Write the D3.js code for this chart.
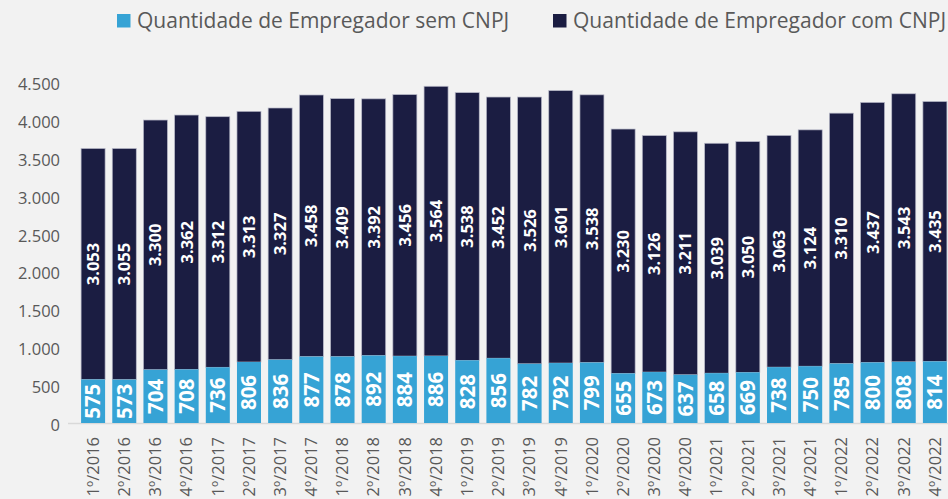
<!DOCTYPE html>
<html>
<head>
<meta charset="utf-8">
<script src="https://cdn.jsdelivr.net/npm/d3@7"></script>
<style>
  html, body { margin: 0; background: #f2f2f2; overflow: hidden; }
  text { font-family: "Open Sans", sans-serif; }
</style>
</head>
<body>
<script>
  // dados
  var quarters = [
    "1º/2016","2º/2016","3º/2016","4º/2016",
    "1º/2017","2º/2017","3º/2017","4º/2017",
    "1º/2018","2º/2018","3º/2018","4º/2018",
    "1º/2019","2º/2019","3º/2019","4º/2019",
    "1º/2020","2º/2020","3º/2020","4º/2020",
    "1º/2021","2º/2021","3º/2021","4º/2021",
    "1º/2022","2º/2022","3º/2022","4º/2022"
  ];
  var semCnpj = [575,573,704,708,736,806,836,877,878,892,884,886,828,856,782,792,799,655,673,637,658,669,738,750,785,800,808,814];
  var comCnpj = [3053,3055,3300,3362,3312,3313,3327,3458,3409,3392,3456,3564,3538,3452,3526,3601,3538,3230,3126,3211,3039,3050,3063,3124,3310,3437,3543,3435];
  var yTicks = [0,500,1000,1500,2000,2500,3000,3500,4000,4500];
  var seriesNames = ["Quantidade de Empregador sem CNPJ", "Quantidade de Empregador com CNPJ"];
  var colors = ["#36a3d5", "#1b1d42"];

  var width = 948, height = 499;
  var fmt = function(v) { return d3.format(",")(v).replace(/,/g, "."); };

  var svg = d3.select("body").append("svg")
    .attr("width", width)
    .attr("height", height);

  var x = d3.scaleBand()
    .domain(quarters)
    .range([77.5, 950.5])
    .paddingInner(0.23)
    .paddingOuter(0.115);

  var y = d3.scaleLinear()
    .domain([0, 4500])
    .range([423, 82.5]);

  // eixo y
  svg.append("g")
    .selectAll("text")
    .data(yTicks)
    .enter().append("text")
    .attr("x", 60)
    .attr("y", function(d) { return y(d) + 2; })
    .attr("dy", "0.35em")
    .attr("text-anchor", "end")
    .attr("font-size", 16.5)
    .attr("fill", "#595959")
    .text(function(d) { return fmt(d); });

  // linha base
  svg.append("line")
    .attr("x1", 68).attr("x2", width)
    .attr("y1", y(0) + 0.5).attr("y2", y(0) + 0.5)
    .attr("stroke", "#d9d9d9")
    .attr("stroke-width", 1.5);

  var rows = quarters.map(function(q, i) {
    return { q: q, sem: semCnpj[i], com: comCnpj[i] };
  });

  var bars = svg.append("g").selectAll("g")
    .data(rows)
    .enter().append("g");

  bars.append("rect")
    .attr("x", function(d) { return x(d.q); })
    .attr("width", x.bandwidth())
    .attr("y", function(d) { return y(d.sem + d.com); })
    .attr("height", function(d) { return y(d.sem) - y(d.sem + d.com); })
    .attr("fill", colors[1])
    .attr("stroke", "#b8b9c8")
    .attr("stroke-width", 0.7);

  bars.append("rect")
    .attr("x", function(d) { return x(d.q); })
    .attr("width", x.bandwidth())
    .attr("y", function(d) { return y(d.sem); })
    .attr("height", function(d) { return y(0) - y(d.sem); })
    .attr("fill", colors[0]);

  // rótulos
  bars.append("text")
    .attr("transform", function(d) {
      var cx = x(d.q) + x.bandwidth() / 2;
      var cy = (y(d.sem) + y(0)) / 2;
      return "translate(" + cx + "," + cy + ") rotate(-90)";
    })
    .attr("text-anchor", "middle")
    .attr("dy", "0.36em")
    .attr("font-size", 20.5)
    .attr("font-weight", "bold")
    .attr("fill", "#ffffff")
    .text(function(d) { return fmt(d.sem); });

  bars.append("text")
    .attr("transform", function(d) {
      var cx = x(d.q) + x.bandwidth() / 2;
      var cy = (y(d.sem + d.com) + y(d.sem)) / 2;
      return "translate(" + cx + "," + cy + ") rotate(-90)";
    })
    .attr("text-anchor", "middle")
    .attr("dy", "0.36em")
    .attr("font-size", 16.5)
    .attr("font-weight", "bold")
    .attr("fill", "#ffffff")
    .text(function(d) { return fmt(d.com); });

  // eixo x
  svg.append("g")
    .selectAll("text")
    .data(quarters)
    .enter().append("text")
    .attr("transform", function(d) {
      return "translate(" + (x(d) + x.bandwidth() / 2) + ",437) rotate(-90)";
    })
    .attr("text-anchor", "end")
    .attr("dy", "0.35em")
    .attr("font-size", 16.5)
    .attr("fill", "#595959")
    .text(function(d) { return d; });

  // legenda
  var legendX = [117, 553];
  var legend = svg.append("g").selectAll("g")
    .data(seriesNames)
    .enter().append("g")
    .attr("transform", function(d, i) { return "translate(" + legendX[i] + ",14)"; });

  legend.append("rect")
    .attr("width", 13.5).attr("height", 13.5)
    .attr("fill", function(d, i) { return colors[i]; });

  legend.append("text")
    .attr("x", 20)
    .attr("y", 7)
    .attr("dy", "0.35em")
    .attr("font-size", 21)
    .attr("fill", "#595959")
    .text(function(d) { return d; });
</script>
</body>
</html>
